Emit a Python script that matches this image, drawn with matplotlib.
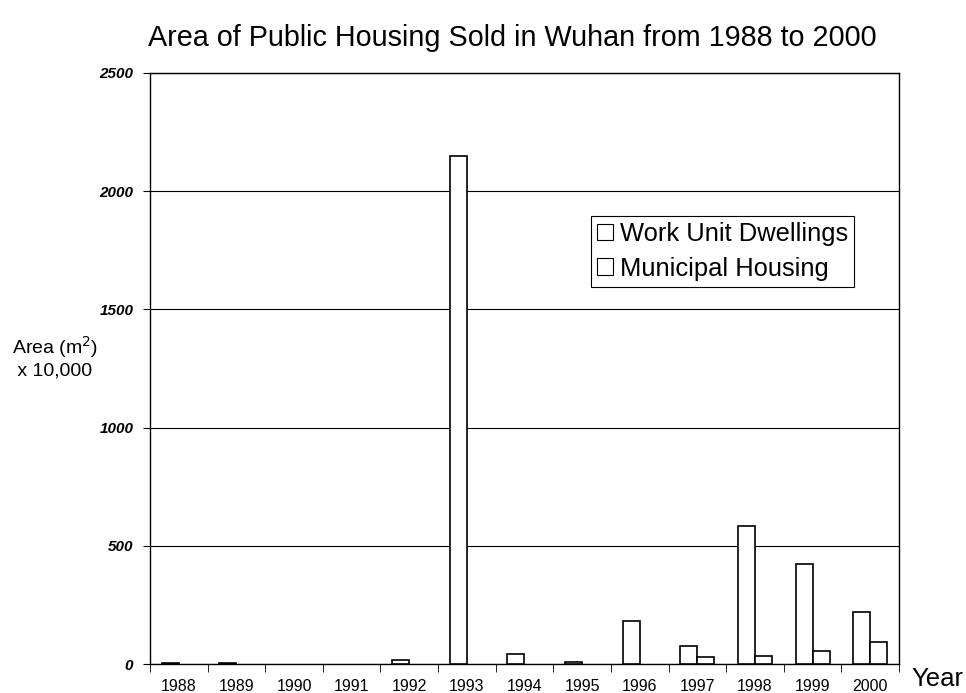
import numpy as np
import matplotlib.pyplot as plt

plt.rcParams['font.family'] = ['Liberation Sans', 'DejaVu Sans']

years = ['1988', '1989', '1990', '1991', '1992', '1993', '1994',
         '1995', '1996', '1997', '1998', '1999', '2000']
work_unit = [4, 3, 0, 0, 15, 2150, 44, 8, 181, 77, 583, 422, 219]
municipal = [0, 0, 0, 0, 0, 0, 0, 0, 0, 28, 34, 57, 94]
y_ticks = [0, 500, 1000, 1500, 2000, 2500]

fig = plt.figure(figsize=(9.66, 6.93), dpi=100)
ax = fig.add_axes([0.1553, 0.0418, 0.9306 - 0.1553, 0.8947 - 0.0418])

x = np.arange(len(years))
w = 0.295
wu = np.array(work_unit, dtype=float)
mu = np.array(municipal, dtype=float)
# Excel leaves empty cells blank, so skip zero values
m1 = wu > 0
m2 = mu > 0
ax.bar(x[m1] - w / 2, wu[m1], w, color='white', edgecolor='black', linewidth=1.2,
       label='Work Unit Dwellings', zorder=3)
ax.bar(x[m2] + w / 2, mu[m2], w, color='white', edgecolor='black', linewidth=1.2,
       label='Municipal Housing', zorder=3)

ax.set_xlim(-0.5, len(years) - 0.5)
ax.set_ylim(0, 2500)
ax.set_yticks(y_ticks)
ax.set_yticklabels([str(t) for t in y_ticks], fontsize=11, fontweight='bold', fontstyle='italic')
ax.yaxis.grid(True, color='black', linewidth=0.8)
ax.set_axisbelow(True)
ax.tick_params(axis='y', direction='out', length=5, pad=7)

ax.set_xticks(x)
ax.set_xticklabels(years, fontsize=11.5)
ax.tick_params(axis='x', which='major', length=0, pad=11)
ax.set_xticks(np.arange(len(years) + 1) - 0.5, minor=True)
ax.tick_params(axis='x', which='minor', direction='out', length=6)

for s in ax.spines.values():
    s.set_linewidth(1.0)

fig.text(0.530, 0.945, 'Area of Public Housing Sold in Wuhan from 1988 to 2000',
         fontsize=20.7, ha='center', va='center')

leg = ax.legend(loc='upper left', bbox_to_anchor=(0.589, 0.758), fontsize=18.4,
                frameon=True, fancybox=False, edgecolor='black', handlelength=0.625,
                handleheight=0.625, handletextpad=0.27, borderpad=0.24, labelspacing=0.41,
                borderaxespad=0, framealpha=1)
leg.get_frame().set_linewidth(0.8)
for h in leg.legend_handles:
    h.set_linewidth(0.8)

fig.text(0.012, 0.485, 'Area (m$^2$)\n x 10,000', fontsize=14, ha='left', va='center',
         linespacing=1.2)
fig.text(0.944, 0.02, 'Year', fontsize=18.5, ha='left', va='center')

fig.savefig('out.png', dpi=100)
